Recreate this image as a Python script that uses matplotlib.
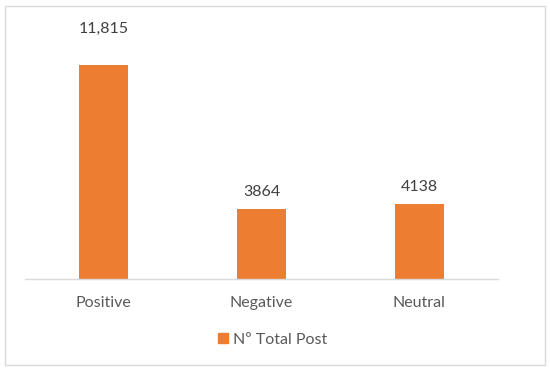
import matplotlib.pyplot as plt
from matplotlib.patches import Rectangle
from matplotlib.lines import Line2D

# chart data
categories = ['Positive', 'Negative', 'Neutral']
posts = [11815, 3864, 4138]
labels = ['11,815', '3864', '4138']
label_offsets = [21, 7, 7]  # points above bar top

bar_color = '#ED7D31'
text_color = '#404040'
tick_color = '#595959'

plt.rcParams['font.family'] = ['Lato', 'DejaVu Sans']

fig = plt.figure(figsize=(5.5, 3.71), dpi=100)
ax = fig.add_axes([0.0455, 0.248, 0.86, 0.733])

x = range(len(categories))
ax.bar(x, posts, width=0.31, color=bar_color, zorder=2)

for xi, v, lab, off in zip(x, posts, labels, label_offsets):
    ax.annotate(lab, (xi, v), xytext=(0, off), textcoords='offset points',
                ha='center', va='bottom', fontsize=11.5, color=text_color)

ax.set_xlim(-0.5, 2.5)
ax.set_ylim(0, 15000)
ax.set_xticks(list(x))
ax.set_xticklabels(categories, fontsize=11.5, color=tick_color)
ax.tick_params(axis='x', length=0, pad=12)
ax.set_yticks([])
for side in ['top', 'right', 'left']:
    ax.spines[side].set_visible(False)
ax.spines['bottom'].set_color('#d9d9d9')
ax.spines['bottom'].set_linewidth(1.0)

handle = Line2D([], [], marker='s', linestyle='none', color=bar_color, markersize=7)
fig.legend([handle], ['Nº Total Post'], loc='center', bbox_to_anchor=(0.493, 0.084),
           frameon=False, fontsize=11.5, labelcolor=tick_color,
           handletextpad=0.1, handlelength=1.0)

# outer border
fig.patches.append(Rectangle((5 / 550, 6 / 371), 540 / 550, 359 / 371,
                             transform=fig.transFigure, fill=False,
                             edgecolor='#d9d9d9', linewidth=1.0))

fig.savefig('out.png', dpi=100)
